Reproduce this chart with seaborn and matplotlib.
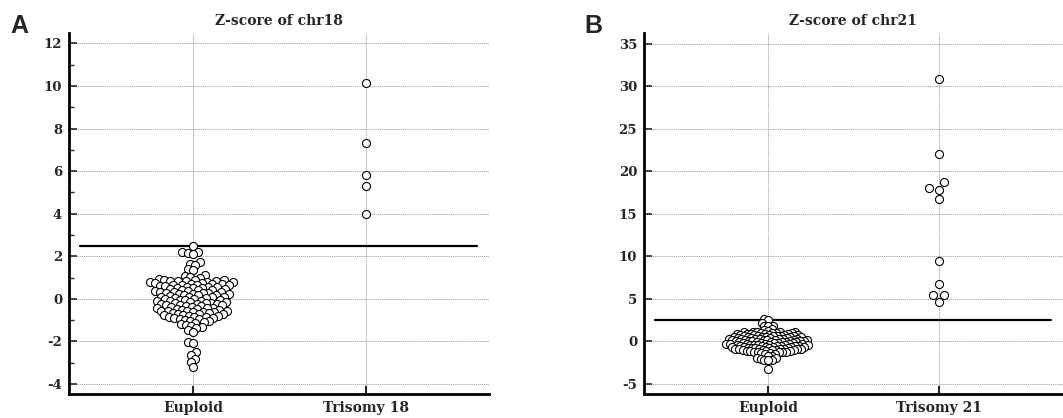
import numpy as np
import pandas as pd
import seaborn as sns
import matplotlib.pyplot as plt

# values
groups_18 = ["Euploid", "Trisomy 18"]
groups_21 = ["Euploid", "Trisomy 21"]
cutoff = 2.5

euploid_chr18 = [
    2.48, 2.20, 2.18, 2.15, 2.13, 1.71, 1.66, 1.58, 1.40, 1.36, 1.10, 1.06, 1.02, 0.98,
    -2.03, -2.07, -2.48, -2.62, -2.81, -2.98, -3.20,
    -1.55, -1.47, -1.36, -1.31, -1.28, -1.22, -1.18, -1.12, -1.09, -1.05, -1.02, -0.98,
    0.92, 0.90, 0.89, 0.87, 0.86, 0.84, 0.83, 0.81, 0.78, 0.77,
    0.75, 0.72, 0.70, 0.68, 0.67, 0.65, 0.63, 0.61, 0.58, 0.56,
    0.55, 0.52, 0.50, 0.49, 0.46, 0.44, 0.41, 0.40, 0.37, 0.35,
    0.33, 0.31, 0.28, 0.26, 0.25, 0.22, 0.20, 0.18, 0.16, 0.13,
    0.11, 0.09, 0.07, 0.05, 0.03, 0.01, -0.02, -0.04, -0.06, -0.08,
    -0.10, -0.12, -0.15, -0.17, -0.19, -0.21, -0.23, -0.26, -0.28, -0.30,
    -0.32, -0.34, -0.37, -0.39, -0.41, -0.43, -0.46, -0.48, -0.50, -0.52,
    -0.55, -0.57, -0.59, -0.61, -0.64, -0.66, -0.68, -0.70, -0.73, -0.75,
    -0.77, -0.79, -0.82, -0.84, -0.86, -0.88, -0.91, -0.93, -0.95,
    0.85, 0.74, 0.60, 0.47, 0.34, 0.21, 0.08, -0.05, -0.18, -0.31,
    -0.44, -0.58, -0.71, -0.85, 0.66, 0.29, -0.25, -0.62,
]
trisomy_chr18 = [10.16, 7.31, 5.84, 5.30, 4.00]

euploid_chr21 = [
    2.57, 2.52, 2.10, 1.82, 1.80, 1.78, 1.45, 1.30, 1.25,
    -1.70, -1.75, -1.98, -2.02, -2.05, -2.18, -2.22, -2.25, -3.20,
    1.15, 1.12, 1.10, 1.08, 1.05, 1.02, 1.00, 0.97, 0.95, 0.92,
    0.90, 0.87, 0.85, 0.82, 0.80, 0.77, 0.75, 0.72, 0.70, 0.67,
    0.65, 0.62, 0.60, 0.57, 0.55, 0.52, 0.50, 0.47, 0.45, 0.42,
    0.40, 0.37, 0.35, 0.32, 0.30, 0.27, 0.25, 0.22, 0.20, 0.17,
    0.15, 0.12, 0.10, 0.07, 0.05, 0.02, 0.00, -0.03, -0.05, -0.08,
    -0.10, -0.13, -0.15, -0.18, -0.20, -0.23, -0.25, -0.28, -0.30, -0.33,
    -0.35, -0.38, -0.40, -0.43, -0.45, -0.48, -0.50, -0.53, -0.55, -0.58,
    -0.60, -0.63, -0.65, -0.68, -0.70, -0.73, -0.75, -0.78, -0.80, -0.83,
    -0.85, -0.88, -0.90, -0.93, -0.95, -0.98, -1.00, -1.03, -1.05, -1.08,
    -1.10, -1.13, -1.15, -1.18, -1.20, -1.23, -1.25, -1.28, -1.30, -1.35,
    -1.40, -1.45, -1.50,
    0.33, 0.18, 0.04, -0.12, -0.26, -0.41, -0.56, -0.71, -0.86, 0.58,
    -0.02, -0.64, 0.26, -0.36, -0.91, 0.11, -0.47, 0.49,
]
trisomy_chr21 = [30.9, 22.1, 18.7, 18.0, 17.8, 16.7, 9.4, 6.8, 5.5, 5.45, 4.6]

sns.set_style("white")
plt.rcParams["font.family"] = ["DejaVu Serif"]
plt.rcParams["font.weight"] = "bold"
plt.rcParams["axes.unicode_minus"] = False

fig = plt.figure(figsize=(10.63, 4.18), dpi=100)
axA = fig.add_axes([0.0649, 0.0574, 0.395, 0.864])
axB = fig.add_axes([0.6058, 0.0574, 0.394, 0.864])

dot = 5.8  # drawn marker size
pt_kw = dict(color="white", edgecolor="black", linewidth=0.8, zorder=4)


def panel(ax, cats, eu, tri, title, ylim, xlim, yticks, minor, pack):
    d_eu = pd.DataFrame({"group": cats[0], "z": sorted(eu, reverse=True)})
    d_tri = pd.DataFrame({"group": cats[1], "z": tri})
    n0 = len(ax.collections)
    # euploid swarm packed with a smaller footprint so the dots overlap like the original
    sns.swarmplot(data=d_eu, x="group", y="z", order=cats, ax=ax, size=pack,
                  warn_thresh=1, **pt_kw)
    eu_pts = ax.collections[n0:]
    sns.swarmplot(data=d_tri, x="group", y="z", order=cats, ax=ax, size=dot,
                  warn_thresh=1, **pt_kw)

    ax.axhline(cutoff, xmin=0.027, xmax=0.972, color="black", lw=1.6, zorder=3)

    ax.set_xlim(*xlim)
    ax.set_ylim(*ylim)
    ax.set_yticks(yticks)
    if minor is not None:
        ax.set_yticks(minor, minor=True)
    ax.set_xlabel("")
    ax.set_ylabel("")
    ax.set_title(title, fontsize=10, fontweight="bold", pad=6)
    ax.grid(True, which="major", ls=(0, (1.5, 1)), color="#999999", lw=0.6)
    ax.set_axisbelow(True)
    for s in ["top", "right"]:
        ax.spines[s].set_visible(False)
    for s in ["left", "bottom"]:
        ax.spines[s].set_linewidth(2)
        ax.spines[s].set_color("black")
    ax.tick_params(axis="y", which="major", direction="in", length=6, width=1.2,
                   labelsize=9.5, pad=5, left=True)
    ax.tick_params(axis="y", which="minor", direction="in", length=3.5, width=1.0, left=True)
    ax.tick_params(axis="x", direction="in", length=6, width=1.5, labelsize=10,
                   pad=5, bottom=True)
    return eu_pts


euA = panel(axA, groups_18, euploid_chr18, trisomy_chr18, "Z-score of chr18",
            (-4.47, 12.5), (-0.717, 1.71), range(-4, 13, 2), range(-4, 13, 1), 2.9)
euB = panel(axB, groups_21, euploid_chr21, trisomy_chr21, "Z-score of chr21",
            (-6.2, 36.3), (-0.73, 1.73), range(-5, 36, 5), None, 1.8)

# run the swarm layout once, freeze it, then draw the dots at full size
fig.canvas.draw()
for pts in euA + euB:
    if "draw" in pts.__dict__:
        del pts.draw
    pts.set_sizes([dot ** 2])

fig.text(0.0094, 0.921, "A", family="Liberation Sans", fontweight="bold", fontsize=18)
fig.text(0.550, 0.921, "B", family="Liberation Sans", fontweight="bold", fontsize=18)

fig.savefig("out.png", dpi=100)
